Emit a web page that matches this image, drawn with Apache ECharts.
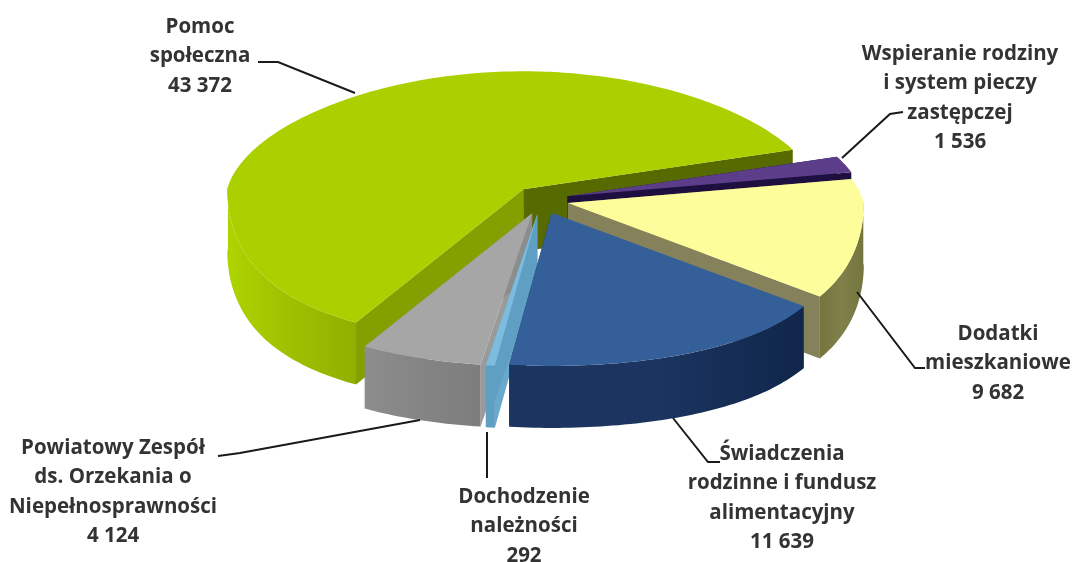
<!DOCTYPE html>
<html><head><meta charset="utf-8">
<style>html,body{margin:0;padding:0;background:#fff}#c{width:1078px;height:562px}</style>
<script src="https://cdn.jsdelivr.net/npm/echarts@6/dist/echarts.min.js"></script>
</head><body><div id="c"></div>
<script>
// Data
const categories = ["Pomoc\nspołeczna", "Wspieranie rodziny\ni system pieczy\nzastępczej", "Dodatki\nmieszkaniowe", "Świadczenia\nrodzinne i fundusz\nalimentacyjny", "Dochodzenie\nnależności", "Powiatowy Zespół\nds. Orzekania o\nNiepełnosprawności"];
const values = [43372, 1536, 9682, 11639, 292, 4124];

// Look
const topColors = ["#abd000", "#5b3d8a", "#fdfd9b", "#355f98", "#7dbcdc", "#a6a6a6"];
const edgeColors = [["#aed400", "#9dc000", "#8fb000"], ["#1d1040", "#1d1040", "#1d1040"], ["#74743f", "#80804a", "#74743f"], ["#1b3560", "#1b3560", "#10264a"], ["#5f9fc4", "#5f9fc4", "#5f9fc4"], ["#8d8d8d", "#848484", "#7d7d7d"]];
const startCutColors = ["#83a000", "#1d1040", "#85815a", "#3f6ea8", "#6aa8cc", "#9a9a9a"];
const endCutColors = ["#566a00", "#1d1040", "#85815a", "#16305a", "#5f9fc4", "#8d8d8d"];
const paintOrder = [0, 1, 2, 5, 4, 3];
const greenEndAngle = 19.6, cx = 541, cy = 200, exX = 27.5, exY = 14, rx = 296, ryUp = 118, ryDown = 153, depth = 62, nearWiden = 0.2, farNarrow = 0.1;
const labelAnchors = [[200, 12], [960, 39], [998, 319], [782, 439], [524, 482], [113, 433]];
const leaders = [
  [[258, 62], [278, 62], [355, 93]],
  [[903, 112], [890, 114], [842, 158]],
  [[925, 368], [915, 368], [857, 292]],
  [[720, 462], [708, 462], [673, 418]],
  [[487, 432], [487, 478]],
  [[218, 456], [240, 453], [420, 420]]
];

const total = values.reduce((a, b) => a + b, 0);
const spans = []; let acc = greenEndAngle + values[0] / total * 360;
values.forEach(v => { const s = v / total * 360; spans.push([acc, acc - s]); acc -= s; });
const rad = d => d * Math.PI / 180;
function apex(i) { const m = rad((spans[i][0] + spans[i][1]) / 2); return [cx + exX * Math.cos(m), cy - exY * Math.sin(m)]; }
function rim(a, d) {
  const s = Math.sin(rad(d)), widen = s > 0 ? 1 - farNarrow * s : 1 + nearWiden * s * s;
  return [a[0] + rx * Math.cos(rad(d)) * widen, a[1] - (s > 0 ? ryUp : ryDown) * s];
}
const down = p => [p[0], p[1] + depth];
const fmt = v => String(v).replace(/\B(?=(\d{3})+$)/g, " ");

function sliceItem(params) {
  const i = params.dataIndex, a = apex(i), [from, to] = spans[i];
  const arc = [], front = []; const n = Math.max(2, Math.ceil(Math.abs(from - to)));
  for (let k = 0; k <= n; k++) {
    const d = from + (to - from) * k / n, p = rim(a, d);
    arc.push(p);
    if (Math.sin(rad(d)) <= 0.02) front.push(p);
  }
  const p1 = arc[0], p2 = arc[arc.length - 1];
  const stops = c => ({ type: "linear", x: 0, y: 0, x2: 1, y2: 0, colorStops: [{ offset: 0, color: c[0] }, { offset: .5, color: c[1] }, { offset: 1, color: c[2] }] });
  const poly = (pts, fill, sub) => ({ type: "polygon", z2: paintOrder.indexOf(i) * 5 + sub, shape: { points: pts }, style: { fill: fill }, silent: true });
  const kids = [
    poly([a, p1, down(p1), down(a)], startCutColors[i], 0),
    poly([a, p2, down(p2), down(a)], endCutColors[i], 1)
  ];
  if (front.length > 1) kids.push(poly(front.concat(front.map(down).reverse()), stops(edgeColors[i]), 2));
  kids.push(poly([a].concat(arc), topColors[i], 3));
  return { type: "group", children: kids };
}
function labelItem(params) {
  const i = params.dataIndex, pts = leaders[i], an = labelAnchors[i];
  return { type: "group", children: [
    { type: "polyline", shape: { points: pts }, style: { stroke: "#1a1a1a", lineWidth: 2, fill: null }, silent: true },
    { type: "text", silent: true, style: { text: categories[i] + "\n" + fmt(values[i]), x: an[0], y: an[1], align: "center", verticalAlign: "top", fill: "#333", fontFamily: "Open Sans", fontWeight: 700, fontSize: 20.5, lineHeight: 29.5 } }
  ] };
}
const chart = echarts.init(document.getElementById("c"));
chart.setOption({
  animation: false,
  series: [
    { type: "custom", coordinateSystem: "none", renderItem: sliceItem, data: values, z: 1 },
    { type: "custom", coordinateSystem: "none", renderItem: labelItem, data: values, z: 2 }
  ]
});
</script></body></html>
